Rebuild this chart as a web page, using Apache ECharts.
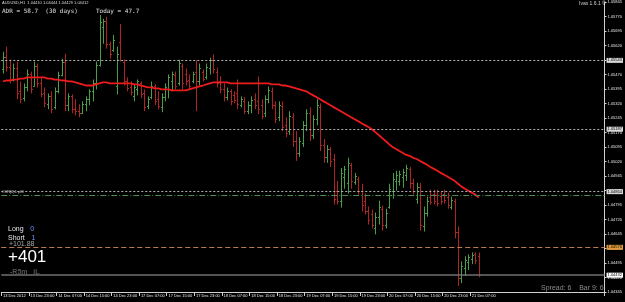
<!DOCTYPE html>
<html>
<head>
<meta charset="utf-8">
<title>AUDUSD H1</title>
<script src="https://cdn.jsdelivr.net/npm/echarts@6/dist/echarts.min.js"></script>
<style>
	html, body { margin: 0; padding: 0; background: #000; }
	#chart { width: 625px; height: 302px; }
</style>
</head>
<body>
<div id="chart"></div>
<script>
// AUDUSD H1, one value per hourly bar (13 Dec 15:00 .. 21 Dec 09:00)
var openData = [
	1.05496, 1.05562, 1.05511, 1.05444, 1.05506, 1.05383, 1.05347, 1.05403, 1.05475, 1.05408,
	1.05516, 1.05424, 1.05372, 1.05316, 1.05357, 1.05300, 1.05383, 1.05465, 1.05537, 1.05311,
	1.05357, 1.05290, 1.05280, 1.05270, 1.05316, 1.05342, 1.05383, 1.05424, 1.05521, 1.05717,
	1.05747, 1.05629, 1.05598, 1.05408, 1.05640, 1.05537, 1.05434, 1.05403, 1.05357, 1.05393,
	1.05424, 1.05372, 1.05306, 1.05352, 1.05408, 1.05342, 1.05300, 1.05352, 1.05393, 1.05434,
	1.05465, 1.05424, 1.05516, 1.05475, 1.05444, 1.05434, 1.05485, 1.05434, 1.05485, 1.05455,
	1.05506, 1.05547, 1.05485, 1.05434, 1.05393, 1.05352, 1.05383, 1.05362, 1.05372, 1.05311,
	1.05331, 1.05280, 1.05311, 1.05342, 1.05331, 1.05311, 1.05270, 1.05342, 1.05383, 1.05311,
	1.05249, 1.05306, 1.05208, 1.05177, 1.05249, 1.05126, 1.05064, 1.05116, 1.05208, 1.05270,
	1.05157, 1.05239, 1.05300, 1.05105, 1.05044, 1.05085, 1.05033, 1.04869, 1.04818, 1.04941,
	1.04910, 1.05003, 1.04915, 1.04931, 1.04869, 1.04818, 1.04766, 1.04746, 1.04674, 1.04735,
	1.04776, 1.04694, 1.04787, 1.04869, 1.04920, 1.04920, 1.04941, 1.04951, 1.04982, 1.04910,
	1.04828, 1.04890, 1.04684, 1.04756, 1.04838, 1.04854, 1.04849, 1.04843, 1.04854, 1.04838,
	1.04787, 1.04818, 1.04653, 1.04417, 1.04468, 1.04499, 1.04515, 1.04540, 1.04530
];
var highData = [
	1.05588, 1.05614, 1.05547, 1.05527, 1.05537, 1.05434, 1.05424, 1.05496, 1.05485, 1.05537,
	1.05527, 1.05455, 1.05403, 1.05372, 1.05383, 1.05403, 1.05485, 1.05552, 1.05578, 1.05372,
	1.05367, 1.05342, 1.05316, 1.05331, 1.05357, 1.05393, 1.05444, 1.05537, 1.05778, 1.05758,
	1.05768, 1.05640, 1.05675, 1.05614, 1.05732, 1.05547, 1.05455, 1.05434, 1.05419, 1.05444,
	1.05434, 1.05393, 1.05357, 1.05434, 1.05419, 1.05383, 1.05372, 1.05424, 1.05470, 1.05485,
	1.05485, 1.05547, 1.05527, 1.05501, 1.05470, 1.05485, 1.05542, 1.05527, 1.05496, 1.05527,
	1.05557, 1.05573, 1.05506, 1.05460, 1.05424, 1.05403, 1.05393, 1.05383, 1.05444, 1.05357,
	1.05352, 1.05331, 1.05357, 1.05372, 1.05460, 1.05342, 1.05362, 1.05408, 1.05403, 1.05331,
	1.05331, 1.05331, 1.05249, 1.05280, 1.05270, 1.05177, 1.05146, 1.05229, 1.05290, 1.05300,
	1.05259, 1.05342, 1.05321, 1.05136, 1.05105, 1.05095, 1.05059, 1.04920, 1.04987, 1.04997,
	1.05039, 1.05013, 1.04961, 1.04941, 1.04905, 1.04854, 1.04787, 1.04771, 1.04756, 1.04818,
	1.04792, 1.04776, 1.04905, 1.04961, 1.04972, 1.04972, 1.04982, 1.05003, 1.04992, 1.04931,
	1.04910, 1.04910, 1.04787, 1.04838, 1.04874, 1.04874, 1.04874, 1.04864, 1.04874, 1.04859,
	1.04838, 1.04828, 1.04684, 1.04504, 1.04530, 1.04540, 1.04550, 1.04550, 1.04550
];
var lowData = [
	1.05475, 1.05485, 1.05424, 1.05434, 1.05342, 1.05321, 1.05331, 1.05383, 1.05372, 1.05408,
	1.05403, 1.05352, 1.05300, 1.05290, 1.05270, 1.05290, 1.05372, 1.05460, 1.05280, 1.05280,
	1.05270, 1.05259, 1.05249, 1.05265, 1.05280, 1.05311, 1.05331, 1.05393, 1.05511, 1.05629,
	1.05604, 1.05552, 1.05588, 1.05367, 1.05537, 1.05413, 1.05383, 1.05362, 1.05331, 1.05362,
	1.05347, 1.05280, 1.05290, 1.05342, 1.05311, 1.05290, 1.05275, 1.05331, 1.05347, 1.05383,
	1.05393, 1.05413, 1.05393, 1.05413, 1.05393, 1.05424, 1.05280, 1.05413, 1.05434, 1.05444,
	1.05470, 1.05475, 1.05403, 1.05372, 1.05331, 1.05336, 1.05311, 1.05321, 1.05290, 1.05300,
	1.05265, 1.05265, 1.05270, 1.05290, 1.05265, 1.05239, 1.05249, 1.05321, 1.05290, 1.05218,
	1.05229, 1.05177, 1.05146, 1.05157, 1.05095, 1.05023, 1.05044, 1.05095, 1.05177, 1.05126,
	1.05136, 1.05208, 1.05074, 1.05013, 1.05013, 1.04992, 1.04797, 1.04797, 1.04782, 1.04879,
	1.04854, 1.04879, 1.04900, 1.04849, 1.04761, 1.04746, 1.04694, 1.04674, 1.04643, 1.04694,
	1.04663, 1.04674, 1.04776, 1.04828, 1.04869, 1.04895, 1.04884, 1.04920, 1.04879, 1.04849,
	1.04802, 1.04663, 1.04658, 1.04735, 1.04797, 1.04797, 1.04787, 1.04797, 1.04802, 1.04776,
	1.04771, 1.04622, 1.04376, 1.04391, 1.04427, 1.04458, 1.04489, 1.04489, 1.04422
];
var closeData = [
	1.05562, 1.05511, 1.05444, 1.05506, 1.05372, 1.05342, 1.05403, 1.05475, 1.05393, 1.05516,
	1.05424, 1.05367, 1.05321, 1.05357, 1.05290, 1.05383, 1.05465, 1.05537, 1.05311, 1.05357,
	1.05290, 1.05280, 1.05270, 1.05316, 1.05342, 1.05383, 1.05424, 1.05521, 1.05742, 1.05747,
	1.05629, 1.05578, 1.05650, 1.05578, 1.05547, 1.05434, 1.05398, 1.05378, 1.05403, 1.05434,
	1.05367, 1.05300, 1.05342, 1.05413, 1.05331, 1.05306, 1.05352, 1.05403, 1.05455, 1.05470,
	1.05413, 1.05527, 1.05424, 1.05434, 1.05408, 1.05470, 1.05434, 1.05506, 1.05449, 1.05511,
	1.05547, 1.05496, 1.05424, 1.05393, 1.05352, 1.05383, 1.05331, 1.05336, 1.05316, 1.05342,
	1.05280, 1.05311, 1.05336, 1.05311, 1.05290, 1.05254, 1.05342, 1.05388, 1.05311, 1.05239,
	1.05311, 1.05198, 1.05167, 1.05254, 1.05126, 1.05064, 1.05126, 1.05208, 1.05270, 1.05157,
	1.05239, 1.05311, 1.05105, 1.05044, 1.05085, 1.05023, 1.04828, 1.04818, 1.04961, 1.04982,
	1.05013, 1.04920, 1.04946, 1.04869, 1.04797, 1.04766, 1.04715, 1.04694, 1.04735, 1.04787,
	1.04694, 1.04756, 1.04879, 1.04931, 1.04951, 1.04956, 1.04967, 1.04987, 1.04910, 1.04869,
	1.04890, 1.04694, 1.04756, 1.04818, 1.04812, 1.04818, 1.04807, 1.04818, 1.04823, 1.04797,
	1.04823, 1.04653, 1.04417, 1.04478, 1.04509, 1.04525, 1.04535, 1.04509, 1.04432
];
// red moving average
var maData = [
	1.05434, 1.05439, 1.05439, 1.05444, 1.05444, 1.05449, 1.05449, 1.05455, 1.05455, 1.05455,
	1.05455, 1.05455, 1.05455, 1.05449, 1.05449, 1.05444, 1.05444, 1.05439, 1.05439, 1.05434,
	1.05434, 1.05429, 1.05424, 1.05419, 1.05413, 1.05413, 1.05413, 1.05419, 1.05424, 1.05429,
	1.05429, 1.05424, 1.05424, 1.05424, 1.05424, 1.05424, 1.05424, 1.05424, 1.05419, 1.05419,
	1.05413, 1.05408, 1.05403, 1.05403, 1.05398, 1.05398, 1.05393, 1.05393, 1.05393, 1.05388,
	1.05388, 1.05388, 1.05388, 1.05388, 1.05393, 1.05398, 1.05403, 1.05408, 1.05413, 1.05419,
	1.05424, 1.05429, 1.05429, 1.05429, 1.05429, 1.05429, 1.05424, 1.05424, 1.05424, 1.05424,
	1.05424, 1.05424, 1.05424, 1.05424, 1.05424, 1.05424, 1.05424, 1.05424, 1.05419, 1.05419,
	1.05419, 1.05413, 1.05413, 1.05408, 1.05403, 1.05398, 1.05393, 1.05388, 1.05383, 1.05372,
	1.05362, 1.05352, 1.05342, 1.05331, 1.05321, 1.05311, 1.05300, 1.05290, 1.05280, 1.05270,
	1.05259, 1.05249, 1.05239, 1.05229, 1.05218, 1.05208, 1.05198, 1.05187, 1.05172, 1.05157,
	1.05141, 1.05126, 1.05110, 1.05095, 1.05085, 1.05074, 1.05064, 1.05054, 1.05049, 1.05039,
	1.05033, 1.05023, 1.05013, 1.05003, 1.04992, 1.04982, 1.04972, 1.04961, 1.04951, 1.04941,
	1.04931, 1.04920, 1.04905, 1.04890, 1.04879, 1.04869, 1.04859, 1.04849, 1.04833
];
// time labels, one every 8 bars
var tickLabels = [
	'13 Dec 2012', '13 Dec 23:00', '14 Dec 07:00', '14 Dec 15:00', '14 Dec 23:00',
	'17 Dec 07:00', '17 Dec 15:00', '17 Dec 23:00', '18 Dec 07:00', '18 Dec 15:00',
	'18 Dec 23:00', '19 Dec 07:00', '19 Dec 15:00', '19 Dec 23:00', '20 Dec 07:00',
	'20 Dec 15:00', '20 Dec 23:00', '21 Dec 07:00'
];
// horizontal levels
var levelDotted = [1.05543, 1.05187, 1.04864];
var levelSR = 1.04844;
var levelOrange = 1.04576;
var bidPrice = 1.04432;
var priceMin = 1.04345;
var priceMax = 1.05845;
var priceStep = 0.00075;
var slotCount = 175;

var upColor = '#4a9e4a';
var downColor = '#b02424';

var cats = [];
for (var i = 0; i < slotCount; i++) {
	cats.push(String(i));
}
var barData = openData.map(function (o, i) {
	return [i, o, highData[i], lowData[i], closeData[i]];
});

function showTick(index) {
	return index % 8 === 0 && index / 8 < tickLabels.length;
}

function renderBar(params, api) {
	var i = api.value(0);
	var o = api.coord([i, api.value(1)]);
	var h = api.coord([i, api.value(2)]);
	var l = api.coord([i, api.value(3)]);
	var c = api.coord([i, api.value(4)]);
	var x = Math.round(h[0]) + 0.5;
	var oy = Math.round(o[1]) + 0.5;
	var cy = Math.round(c[1]) + 0.5;
	var color = api.value(4) >= api.value(1) ? upColor : downColor;
	var st = { stroke: color, lineWidth: 1 };
	return {
		type: 'group',
		children: [
			{ type: 'line', shape: { x1: x, y1: h[1], x2: x, y2: l[1] }, style: st },
			{ type: 'line', shape: { x1: x - 1.5, y1: oy, x2: x, y2: oy }, style: st },
			{ type: 'line', shape: { x1: x, y1: cy, x2: x + 1.5, y2: cy }, style: st }
		]
	};
}

var boxLabel = function (bg, fg) {
	return {
		show: true,
		position: 'end',
		distance: 2,
		fontSize: 4,
		fontFamily: 'Liberation Sans',
		color: fg,
		backgroundColor: bg,
		padding: [1, 1, 0, 1],
		formatter: function (p) { return Number(p.value).toFixed(5); }
	};
};

var levelLines = levelDotted.map(function (v) {
	return { yAxis: v, lineStyle: { color: '#b0b0b0', type: [2, 2], width: 1 }, label: boxLabel('#d8d8d8', '#000') };
});
levelLines.push({ yAxis: levelSR, lineStyle: { color: '#4f8a4f', type: [6, 2, 1, 2], width: 1 }, label: { show: false } });
levelLines.push({ yAxis: levelOrange, lineStyle: { color: '#c07848', type: [5, 3], width: 1 }, label: boxLabel('#e39a3c', '#000') });
levelLines.push({ yAxis: bidPrice, lineStyle: { color: '#707070', type: 'solid', width: 1.5 }, label: boxLabel('#ffffff', '#000') });

var chart = echarts.init(document.getElementById('chart'));
var option = {
	backgroundColor: '#000',
	animation: false,
	grid: { left: 0, right: 19, top: 0, bottom: 10 },
	xAxis: {
		type: 'category',
		data: cats,
		boundaryGap: true,
		axisLine: { show: true, lineStyle: { color: '#d0d0d0', width: 1 } },
		axisTick: { show: true, interval: showTick, length: 4, lineStyle: { color: '#d0d0d0' } },
		axisLabel: {
			interval: showTick,
			color: '#e8e8e8',
			fontSize: 4,
			fontFamily: 'Liberation Sans',
			align: 'left',
			margin: 2,
			formatter: function (v, idx) { return tickLabels[idx / 8] || ''; }
		},
		splitLine: { show: false }
	},
	yAxis: {
		type: 'value',
		position: 'right',
		min: priceMin,
		max: priceMax,
		interval: priceStep,
		axisLine: { show: true, lineStyle: { color: '#d0d0d0', width: 1 } },
		axisTick: { show: true, length: 2, lineStyle: { color: '#d0d0d0' } },
		axisLabel: {
			color: '#e8e8e8',
			fontSize: 4,
			fontFamily: 'Liberation Sans',
			margin: 3,
			formatter: function (v) { return v.toFixed(5); }
		},
		splitLine: { show: false }
	},
	series: [
		{
			name: 'bars',
			type: 'custom',
			renderItem: renderBar,
			encode: { x: 0, y: [1, 2, 3, 4] },
			data: barData,
			clip: true,
			z: 2
		},
		{
			name: 'MA',
			type: 'line',
			data: maData,
			symbol: 'none',
			lineStyle: { color: '#ee1c1c', width: 1.8 },
			z: 3,
			markLine: {
				silent: true,
				symbol: ['none', 'none'],
				precision: 5,
				animation: false,
				data: levelLines
			}
		}
	],
	graphic: [
		{ type: 'text', left: 2, top: 1, style: { text: 'AUDUSD,H1  1.04410 1.04444 1.04429 1.04412', fill: '#dcdcdc', font: '4px "Liberation Sans"' } },
		{ type: 'text', left: 2, top: 8, style: { text: 'ADR = 58.7  (30 days)     Today = 47.7', fill: '#e0e0e0', font: '6px "DejaVu Sans Mono"' } },
		{ type: 'text', left: 579, top: 1, style: { text: 'Ivax 1.6.1 ©', fill: '#d0d0d0', font: '5px "Liberation Sans"' } },
		{ type: 'text', left: 2, top: 190, style: { text: '#SR(0)1 pM', fill: '#cfcfcf', font: '4px "Liberation Sans"' } },
		{ type: 'text', left: 8, top: 223, style: { text: '{a|Long}  {b|0}', rich: { a: { fill: '#e6e6e6', font: '7px "Liberation Sans"' }, b: { fill: '#6f8fff', font: '7px "Liberation Sans"' } } } },
		{ type: 'text', left: 8, top: 232, style: { text: '{a|Short}  {b|1}', rich: { a: { fill: '#e6e6e6', font: '7px "Liberation Sans"' }, b: { fill: '#6f8fff', font: '7px "Liberation Sans"' } } } },
		{ type: 'text', left: 9, top: 241, style: { text: '+101.88', fill: '#a8a8a8', font: '7px "Liberation Sans"' } },
		{ type: 'text', left: 8, top: 249, style: { text: '+401', fill: '#ffffff', font: '17px "Liberation Sans"' } },
		{ type: 'text', left: 10, top: 269, style: { text: '-R5m   iL', fill: '#555555', font: 'bold 7px "Liberation Sans"' } },
		{ type: 'text', left: 541, top: 285, style: { text: 'Spread: 6    Bar 9: 6', fill: '#8a8a8a', font: '7px "Liberation Sans"' } }
	]
};
chart.setOption(option);
</script>
</body>
</html>
